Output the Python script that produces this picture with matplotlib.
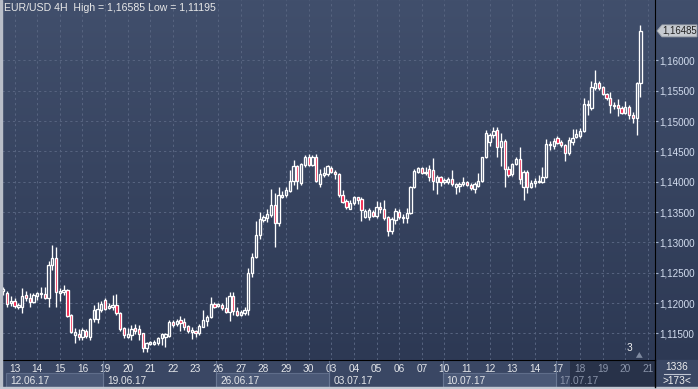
import matplotlib.pyplot as plt
import matplotlib.transforms as mtransforms
from matplotlib.patches import Rectangle, Polygon
from matplotlib.lines import Line2D
import numpy as np

W, H = 698, 389

# 4H candles, EUR/USD, 12.06.17 - 20.07.17
opens = [1.12199, 1.12161, 1.11997, 1.12034, 1.11931, 1.11931, 1.12128, 1.12079, 1.12013, 1.12117,
         1.12145, 1.12145, 1.12079, 1.12628, 1.12743, 1.12171, 1.12183, 1.12216, 1.11804, 1.11474,
         1.11491, 1.11446, 1.11540, 1.11446, 1.11733, 1.11733, 1.11886, 1.12051, 1.11914, 1.11931,
         1.11969, 1.11832, 1.11585, 1.11446, 1.11474, 1.11595, 1.11578, 1.11502, 1.11255, 1.11326,
         1.11326, 1.11337, 1.11420, 1.11436, 1.11458, 1.11688, 1.11655, 1.11721, 1.11688, 1.11622,
         1.11529, 1.11540, 1.11502, 1.11611, 1.11710, 1.11766, 1.11985, 1.11957, 1.11969, 1.11914,
         1.11858, 1.12117, 1.11865, 1.11809, 1.11832, 1.11886, 1.12501, 1.12764, 1.13122, 1.13369,
         1.13397, 1.13451, 1.13616, 1.13315, 1.13753, 1.13781, 1.13852, 1.14007, 1.14259, 1.13984,
         1.14275, 1.14402, 1.14275, 1.14402, 1.13962, 1.14110, 1.14127, 1.14231, 1.14165, 1.14127,
         1.13781, 1.13687, 1.13550, 1.13654, 1.13743, 1.13710, 1.13423, 1.13423, 1.13506, 1.13435,
         1.13578, 1.13545, 1.13414, 1.13193, 1.13369, 1.13506, 1.13397, 1.13397, 1.13489, 1.13908,
         1.14165, 1.14221, 1.14148, 1.14204, 1.14193, 1.14000, 1.14073, 1.14000, 1.14000, 1.14040,
         1.13918, 1.13929, 1.13962, 1.14000, 1.13946, 1.13875, 1.13929, 1.14017, 1.14402, 1.14659,
         1.14770, 1.14852, 1.14567, 1.14676, 1.14204, 1.14127, 1.14292, 1.14369, 1.13918, 1.14165,
         1.13918, 1.13974, 1.13995, 1.14000, 1.14073, 1.14600, 1.14588, 1.14715, 1.14659, 1.14605,
         1.14478, 1.14659, 1.14732, 1.14753, 1.14840, 1.15259, 1.15210, 1.15539, 1.15622, 1.15556,
         1.15445, 1.15374, 1.15264, 1.15264, 1.15210, 1.15137, 1.15226, 1.15099, 1.15045, 1.15622]
highs = [1.12265, 1.12199, 1.12117, 1.12084, 1.12002, 1.12249, 1.12204, 1.12161, 1.12161, 1.12183,
         1.12270, 1.12270, 1.12698, 1.12957, 1.12919, 1.12244, 1.12298, 1.12227, 1.11815, 1.11585,
         1.11568, 1.11585, 1.11568, 1.11749, 1.11969, 1.12023, 1.12039, 1.12079, 1.11997, 1.12133,
         1.12150, 1.11858, 1.11611, 1.11585, 1.11639, 1.11651, 1.11639, 1.11512, 1.11359, 1.11380,
         1.11392, 1.11446, 1.11502, 1.11507, 1.11721, 1.11721, 1.11733, 1.11787, 1.11749, 1.11639,
         1.11611, 1.11557, 1.11655, 1.11886, 1.11804, 1.12095, 1.12023, 1.12006, 1.11997, 1.12095,
         1.12188, 1.12188, 1.11941, 1.11886, 1.11931, 1.12573, 1.12830, 1.13353, 1.13506, 1.13451,
         1.13545, 1.13875, 1.13809, 1.13908, 1.13852, 1.13918, 1.14193, 1.14358, 1.14275, 1.14313,
         1.14440, 1.14457, 1.14440, 1.14457, 1.14204, 1.14247, 1.14275, 1.14259, 1.14193, 1.14139,
         1.13863, 1.13710, 1.13699, 1.13765, 1.13753, 1.13743, 1.13545, 1.13562, 1.13534, 1.13687,
         1.13671, 1.13699, 1.13435, 1.13414, 1.13562, 1.13545, 1.13468, 1.13562, 1.13929, 1.14204,
         1.14247, 1.14247, 1.14247, 1.14275, 1.14386, 1.14110, 1.14094, 1.14056, 1.14083, 1.14193,
         1.13984, 1.14000, 1.14083, 1.14017, 1.13974, 1.14000, 1.14139, 1.14412, 1.14852, 1.14808,
         1.14897, 1.14897, 1.14798, 1.14699, 1.14259, 1.14313, 1.14402, 1.14577, 1.14193, 1.14193,
         1.14028, 1.14056, 1.14110, 1.14247, 1.14699, 1.14676, 1.14715, 1.14753, 1.14687, 1.14621,
         1.14742, 1.14864, 1.14864, 1.14880, 1.15374, 1.15346, 1.15664, 1.15841, 1.15664, 1.15577,
         1.15467, 1.15483, 1.15318, 1.15358, 1.15247, 1.15335, 1.15264, 1.15154, 1.15648, 1.16585]
lows = [1.12133, 1.11931, 1.11952, 1.11919, 1.11903, 1.11842, 1.12039, 1.11931, 1.11997, 1.12051,
        1.12084, 1.12067, 1.11931, 1.12545, 1.11931, 1.12039, 1.12133, 1.11766, 1.11512, 1.11337,
        1.11392, 1.11392, 1.11420, 1.11392, 1.11693, 1.11667, 1.11858, 1.11886, 1.11898, 1.11886,
        1.11804, 1.11545, 1.11420, 1.11420, 1.11392, 1.11491, 1.11392, 1.11195, 1.11199, 1.11309,
        1.11309, 1.11309, 1.11309, 1.11282, 1.11446, 1.11601, 1.11622, 1.11545, 1.11557, 1.11512,
        1.11403, 1.11446, 1.11474, 1.11601, 1.11622, 1.11749, 1.11914, 1.11941, 1.11886, 1.11832,
        1.11710, 1.11804, 1.11787, 1.11787, 1.11804, 1.11804, 1.12435, 1.12738, 1.13051, 1.13341,
        1.13341, 1.13423, 1.12919, 1.13270, 1.13727, 1.13753, 1.13835, 1.13946, 1.13875, 1.13946,
        1.14247, 1.14259, 1.14259, 1.14000, 1.13908, 1.14083, 1.14094, 1.14148, 1.14040, 1.13753,
        1.13644, 1.13545, 1.13545, 1.13616, 1.13633, 1.13358, 1.13397, 1.13369, 1.13414, 1.13397,
        1.13480, 1.13369, 1.13105, 1.13138, 1.13303, 1.13381, 1.13315, 1.13315, 1.13468, 1.13891,
        1.14148, 1.14127, 1.14110, 1.14017, 1.13863, 1.13798, 1.13929, 1.13962, 1.13962, 1.13929,
        1.13798, 1.13835, 1.13929, 1.13929, 1.13863, 1.13819, 1.13908, 1.14000, 1.14386, 1.14588,
        1.14715, 1.14412, 1.14259, 1.13918, 1.14083, 1.14094, 1.14275, 1.13962, 1.13699, 1.13819,
        1.13891, 1.13918, 1.13974, 1.13984, 1.14056, 1.14522, 1.14534, 1.14621, 1.14577, 1.14346,
        1.14440, 1.14605, 1.14715, 1.14715, 1.14824, 1.15099, 1.15181, 1.15511, 1.15511, 1.15429,
        1.15346, 1.15137, 1.15193, 1.15083, 1.15116, 1.15116, 1.15028, 1.14962, 1.14770, 1.15401]
closes = [1.12232, 1.11985, 1.12034, 1.11952, 1.11969, 1.12117, 1.12079, 1.12013, 1.12128, 1.12161,
          1.12161, 1.12079, 1.12628, 1.12743, 1.12183, 1.12199, 1.12216, 1.11787, 1.11529, 1.11529,
          1.11446, 1.11557, 1.11458, 1.11738, 1.11886, 1.11898, 1.11985, 1.11903, 1.11952, 1.11969,
          1.11832, 1.11568, 1.11474, 1.11491, 1.11568, 1.11545, 1.11491, 1.11255, 1.11337, 1.11359,
          1.11359, 1.11420, 1.11491, 1.11491, 1.11693, 1.11634, 1.11710, 1.11667, 1.11611, 1.11545,
          1.11557, 1.11502, 1.11622, 1.11721, 1.11776, 1.11985, 1.11931, 1.11985, 1.11914, 1.11858,
          1.12117, 1.11875, 1.11809, 1.11853, 1.11886, 1.12491, 1.12764, 1.13122, 1.13381, 1.13414,
          1.13468, 1.13616, 1.13315, 1.13781, 1.13781, 1.13863, 1.14007, 1.14259, 1.14007, 1.14292,
          1.14402, 1.14275, 1.14402, 1.14017, 1.14127, 1.14139, 1.14259, 1.14165, 1.14127, 1.13781,
          1.13671, 1.13578, 1.13654, 1.13743, 1.13699, 1.13534, 1.13522, 1.13534, 1.13435, 1.13588,
          1.13545, 1.13397, 1.13193, 1.13381, 1.13522, 1.13414, 1.13423, 1.13489, 1.13908, 1.14181,
          1.14221, 1.14148, 1.14165, 1.14083, 1.14017, 1.14083, 1.14000, 1.14028, 1.14045, 1.13962,
          1.13962, 1.13962, 1.14000, 1.13946, 1.13891, 1.13962, 1.14017, 1.14402, 1.14808, 1.14770,
          1.14840, 1.14567, 1.14676, 1.14204, 1.14110, 1.14292, 1.14369, 1.14040, 1.14165, 1.13908,
          1.13984, 1.14017, 1.14017, 1.14083, 1.14621, 1.14621, 1.14676, 1.14643, 1.14605, 1.14478,
          1.14687, 1.14715, 1.14786, 1.14840, 1.15280, 1.15280, 1.15556, 1.15622, 1.15539, 1.15445,
          1.15374, 1.15264, 1.15247, 1.15210, 1.15137, 1.15226, 1.15099, 1.15045, 1.15622, 1.16485]

day_labels = ["13", "14", "15", "16", "19", "20", "21", "22", "23", "26", "27", "28", "29", "30",
              "03", "04", "05", "06", "07", "10", "11", "12", "13", "14", "17", "18", "19", "20", "21"]
week_labels = ["12.06.17", "19.06.17", "26.06.17", "03.07.17", "10.07.17", "17.07.17"]
price_ticks = [1.115, 1.120, 1.125, 1.130, 1.135, 1.140, 1.145, 1.150, 1.155, 1.160]
last_price = 1.16485
title = "EUR/USD 4H  High = 1,16585 Low = 1,11195"
bars_total, bars_visible = "1336", ">173<"

BG_TOP, BG_BOT = "#414f6c", "#2d3954"
STRIP = "#3a4764"
GRID = "#56637f"
BEAR = "#f0103c"
FONT = "Liberation Sans"


def fx(px):
    return px / W


def fy(py):
    return 1 - py / H


fig = plt.figure(figsize=(W / 100, H / 100), dpi=100)

# background gradient for the whole window
bg = fig.add_axes([0, 0, 1, 1])
grad = np.linspace(0, 1, 256)[:, None]
cmap = plt.matplotlib.colors.LinearSegmentedColormap.from_list("bg", [BG_TOP, BG_BOT])
bg.imshow(grad, cmap=cmap, aspect="auto", extent=[0, 1, fy(360), 1])
bg.add_patch(Rectangle((0, 0), 1, fy(360), color=STRIP))
bg.set_xlim(0, 1)
bg.set_ylim(0, 1)
bg.axis("off")

ax = fig.add_axes([fx(2), fy(360), fx(653), 360 / H])
ax.set_facecolor("none")
step = 3.77
ax.set_xlim((2 - 3.3) / step, (655 - 3.3) / step)
ax.set_ylim(1.11062, 1.16994)

# candles
o = np.array(opens)
h = np.array(highs)
lo = np.array(lows)
c = np.array(closes)
idx = np.arange(len(o))
bull = c >= o
top = np.maximum(o, c)
bot = np.minimum(o, c)
ax.vlines(idx, top, h, color="white", lw=0.95, zorder=3)
ax.vlines(idx, lo, bot, color="white", lw=0.95, zorder=3)
ax.bar(idx[bull], (top - bot)[bull], bottom=bot[bull], width=0.6,
       facecolor="none", edgecolor="white", linewidth=0.95, zorder=4)
ax.bar(idx[~bull], (top - bot)[~bull], bottom=bot[~bull], width=0.6,
       facecolor=BEAR, edgecolor="white", linewidth=0.95, zorder=4)

# axes, ticks and grid
day_pos = 3 + 6 * np.arange(len(day_labels))
ax.set_xticks(day_pos)
ax.set_xticklabels(day_labels)
ax.set_yticks(price_ticks)
ax.set_yticklabels([("%.5f" % p).replace(".", ",") for p in price_ticks])
ax.yaxis.tick_right()
ax.tick_params(axis="x", length=0, pad=3, labelsize=7.3, labelcolor="#e4e6ea")
ax.tick_params(axis="y", length=2.2, pad=1.2, width=0.8, color="#9fb0cc",
               labelsize=7.1, labelcolor="#d4def0")
for lab in ax.get_xticklabels() + ax.get_yticklabels():
    lab.set_fontfamily(FONT)
for lab in ax.get_xticklabels()[-4:]:
    lab.set_color("#8a94aa")
ax.grid(True, color=GRID, linestyle=(0, (2.2, 2.8)), linewidth=0.75, zorder=0)
for side in ["top", "left"]:
    ax.spines[side].set_visible(False)
ax.spines["right"].set_color("black")
ax.spines["bottom"].set_color("black")

ax.text(0.003, 0.991, title, transform=ax.transAxes, ha="left", va="top",
        fontsize=7.6, color="#e8e8e8", family=FONT)

# last price marker
lp = mtransforms.blended_transform_factory(ax.transAxes, ax.transData)
dy = 6 / 6069
ax.add_patch(Polygon([(1.003, last_price), (1.0107, last_price + dy), (1.0643, last_price + dy),
                      (1.0643, last_price - dy), (1.0107, last_price - dy)],
                     closed=True, transform=lp, clip_on=False, facecolor="#c6cad0",
                     edgecolor="#9aa0a8", lw=0.6, zorder=5))
ax.text(1.037, last_price, ("%.5f" % last_price).replace(".", ","), transform=lp,
        ha="center", va="center", fontsize=6.9, color="#222222", family=FONT, zorder=6)

# date strip under the chart
strip = mtransforms.blended_transform_factory(ax.transData, fig.transFigure)
week_edges = 26.5 + 30 * np.arange(len(week_labels) - 1)
left_edge = (6 - 3.3) / step
starts = np.concatenate([[left_edge], week_edges])
ends = np.concatenate([week_edges, [(655 - 3.3) / step]])
shade_from = (570 - 3.3) / step
ax.add_patch(Rectangle((shade_from, fy(387)), (655 - 570) / step, fy(360) - fy(387),
                       transform=strip, clip_on=False, facecolor="#283249", lw=0, zorder=1))
for k, lab in enumerate(week_labels):
    if k % 2 == 0 and k < 5:
        ax.add_patch(Rectangle((starts[k], fy(387)), ends[k] - starts[k], fy(373) - fy(387),
                               transform=strip, clip_on=False, facecolor="#4a5876",
                               edgecolor="#5f6d8a", lw=0.8, zorder=2))
    ax.text(starts[k] + 1.0, fy(380.5), lab, transform=strip, ha="left", va="center",
            fontsize=7.3, color="#e4e6ea" if k < 5 else "#8a94aa", family=FONT, zorder=3)
for e in week_edges:
    ax.add_line(Line2D([e, e], [fy(387), fy(361)], transform=strip, clip_on=False,
                       color="#6a7894", lw=0.8, zorder=3))

# scroll marker near the bottom right
ax.text(166.2, 0.02, "3", transform=mtransforms.blended_transform_factory(ax.transData, ax.transAxes),
        ha="center", va="bottom", fontsize=7.3, color="#f0f0f0", family=FONT)
ax.add_patch(Polygon([(167.8, 0.006), (169.6, 0.006), (168.7, 0.022)], closed=True,
                     transform=mtransforms.blended_transform_factory(ax.transData, ax.transAxes),
                     facecolor="#7f8aa0", lw=0, clip_on=False))

# frame lines and bottom right counter box
fig.add_artist(Line2D([fx(655), fx(655)], [fy(387), fy(360)], color="black", lw=1))
fig.add_artist(Line2D([fx(664), fx(690)], [fy(374), fy(374)], color="#c0c6d2", lw=0.8))
fig.text(fx(677), fy(367.5), bars_total, ha="center", va="center", fontsize=7.3,
         color="#f0f0f0", family=FONT)
fig.text(fx(677), fy(381), bars_visible, ha="center", va="center", fontsize=7.3,
         color="#f0f0f0", family=FONT)
fig.add_artist(Rectangle((0, 0), fx(2), 1, color="#b9bec8"))
fig.add_artist(Rectangle((0, 0), 1, fy(387), color="#c2c8d2"))

fig.savefig("out.png", dpi=100)
